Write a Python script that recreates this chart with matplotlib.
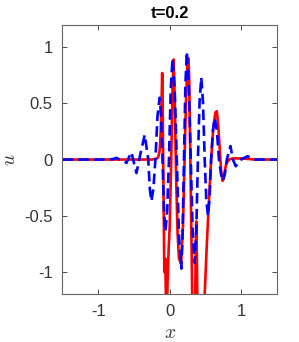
import matplotlib
matplotlib.use('Agg')
import matplotlib.pyplot as plt

# values
red_x = [-1.5, -0.25, -0.19, -0.16, -0.14, -0.125, -0.112, -0.105, -0.098, -0.088,
         -0.075, -0.062, -0.05, -0.04, -0.03, -0.015, 0.0, 0.02, 0.04, 0.056,
         0.07, 0.09, 0.11, 0.13, 0.16, 0.185, 0.205, 0.225, 0.245, 0.262,
         0.272, 0.285, 0.30, 0.315, 0.33, 0.355, 0.365, 0.372, 0.38, 0.39,
         0.43, 0.47, 0.49, 0.52, 0.55, 0.58, 0.61, 0.64, 0.66, 0.68,
         0.70, 0.72, 0.74, 0.76, 0.79, 0.83, 0.88, 1.0, 1.2, 1.5]
red_u = [0.0, 0.0, 0.005, 0.02, 0.08, 0.25, 0.55, 0.77, 0.5, -0.2,
         -1.0, -0.88, -1.35, -1.45, -1.1, -0.8, -0.6, -0.05, 0.65, 0.89,
         0.55, -0.15, -0.65, -0.88, -0.93, -0.6, -0.1, 0.45, 0.82, 0.9,
         0.75, 0.2, -0.5, -1.2, -1.6, -1.3, -0.8, -0.55, -0.85, -1.4,
         -1.8, -1.5, -1.2, -0.75, -0.36, 0.0, 0.28, 0.42, 0.43, 0.3,
         0.1, -0.1, -0.19, -0.14, -0.04, 0.0, 0.01, 0.01, 0.0, 0.0]

blue_x = [-1.5, -0.85, -0.79, -0.745, -0.7, -0.65, -0.605, -0.57, -0.535, -0.5,
          -0.465, -0.41, -0.349, -0.3, -0.278, -0.256, -0.228, -0.2, -0.17, -0.14,
          -0.12, -0.1, -0.08, -0.06, -0.035, -0.01, 0.015, 0.04, 0.07, 0.1,
          0.13, 0.163, 0.18, 0.2, 0.22, 0.24, 0.268, 0.295, 0.322, 0.349,
          0.372, 0.395, 0.418, 0.442, 0.466, 0.49, 0.512, 0.535, 0.558, 0.58,
          0.605, 0.63, 0.66, 0.69, 0.718, 0.745, 0.772, 0.8, 0.85, 0.885,
          0.925, 1.0, 1.09, 1.18, 1.5]
blue_u = [0.0, 0.0, 0.005, 0.015, 0.0, -0.01, -0.03, 0.02, 0.065, -0.03,
          -0.12, 0.05, 0.22, 0.0, -0.26, -0.37, -0.26, 0.0, 0.39, 0.55,
          0.39, 0.0, -0.45, -0.64, -0.45, 0.0, 0.63, 0.9, 0.63, 0.0,
          -0.68, -0.97, -0.68, 0.0, 0.67, 0.96, 0.67, 0.0, -0.64, -0.92,
          -0.64, 0.0, 0.51, 0.73, 0.51, 0.0, -0.35, -0.5, -0.35, 0.0,
          0.26, 0.37, 0.26, 0.0, -0.13, -0.19, -0.13, 0.0, 0.12, 0.0,
          -0.06, 0.0, 0.03, 0.0, 0.0]

x_ticks = [-1, 0, 1]
u_ticks = [-1, -0.5, 0, 0.5, 1]
u_tick_labels = ['-1', '-0.5', '0', '0.5', '1']

plt.rcParams['font.family'] = ['Liberation Sans', 'DejaVu Sans']
plt.rcParams['mathtext.fontset'] = 'cm'
plt.rcParams['axes.unicode_minus'] = False

fig = plt.figure(figsize=(2.99, 3.42), dpi=100)
ax = fig.add_axes([0.209, 0.139, 0.717, 0.789])

ax.plot(red_x, red_u, color='red', linewidth=1.9)
ax.plot(blue_x, blue_u, color='blue', linewidth=1.9, dashes=(4, 2))

ax.set_xlim(-1.5, 1.5)
ax.set_ylim(-1.2, 1.2)
ax.set_xticks(x_ticks)
ax.set_yticks(u_ticks)
ax.set_xticklabels([str(t) for t in x_ticks])
ax.set_yticklabels(u_tick_labels)

ax.tick_params(direction='in', length=3.5, width=0.6, top=True, right=True,
               labelsize=12, colors='#333333', pad=7)
for s in ax.spines.values():
    s.set_color('#666666')
    s.set_linewidth(0.8)

ax.set_xlabel('$x$', fontsize=14, color='#333333', labelpad=4)
ax.set_ylabel('$u$', fontsize=14, color='#333333', labelpad=4)
ax.set_title('t=0.2', fontsize=12, fontweight='bold', pad=5)

fig.savefig('out.png', dpi=100)
